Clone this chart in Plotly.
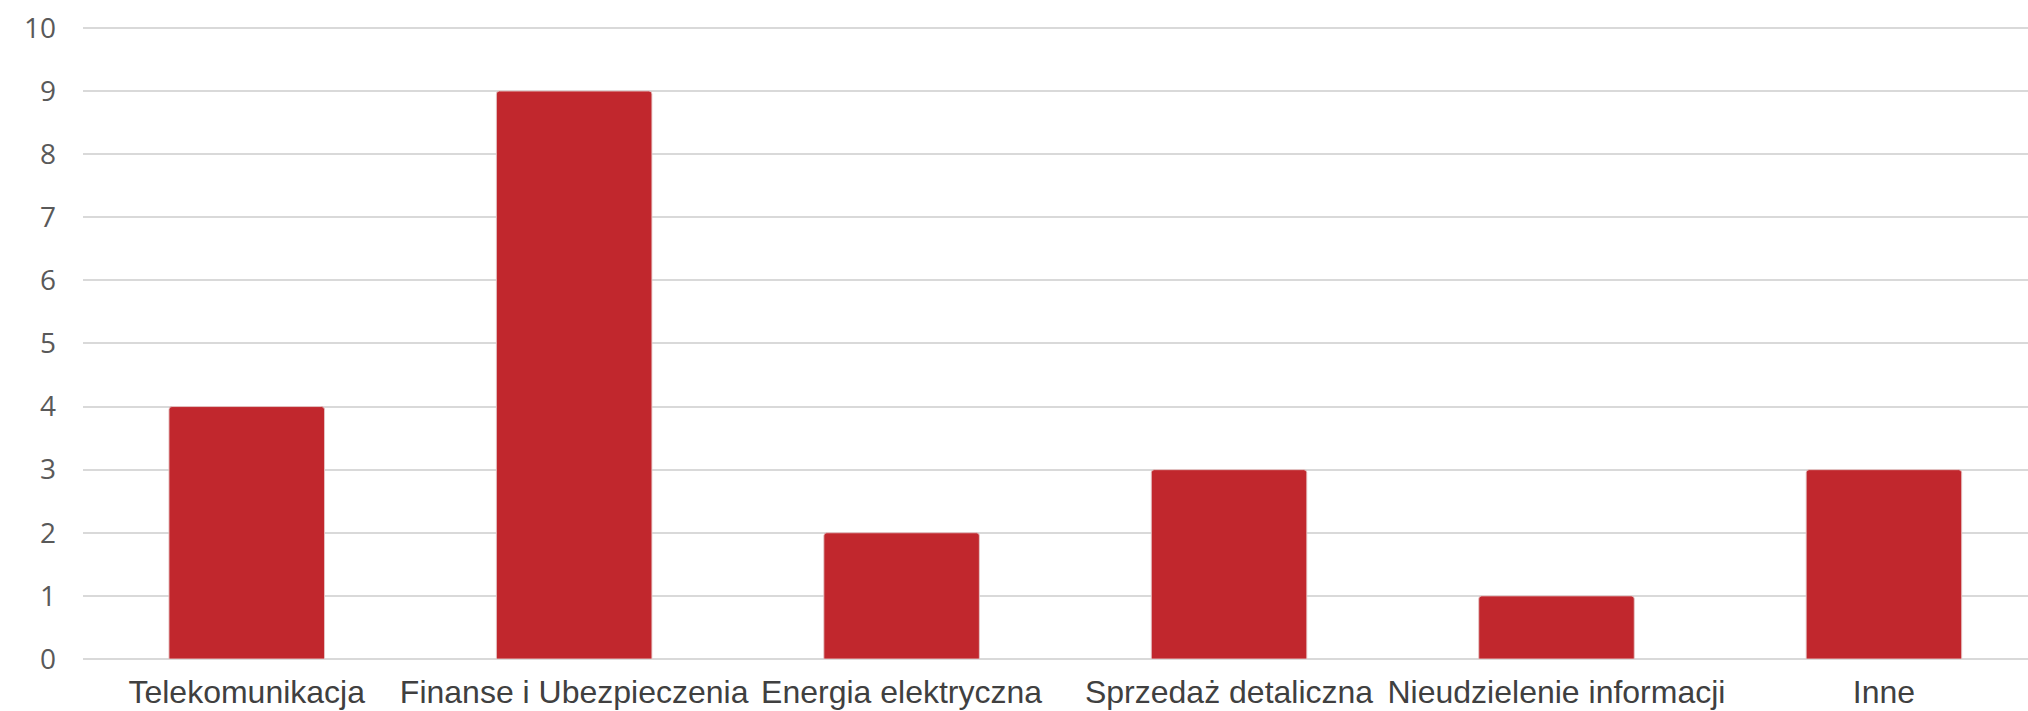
import plotly.graph_objects as go

categories = ["Telekomunikacja", "Finanse i Ubezpieczenia", "Energia elektryczna",
              "Sprzedaż detaliczna", "Nieudzielenie informacji", "Inne"]
values = [4, 9, 2, 3, 1, 3]
y_ticks = [0, 1, 2, 3, 4, 5, 6, 7, 8, 9, 10]

fig = go.Figure()
fig.add_trace(go.Bar(
    x=categories,
    y=values,
    width=0.475,
    marker=dict(color="#c1272d", line=dict(color="rgba(230,200,200,0.9)", width=1),
                cornerradius=3),
    hoverinfo="x+y",
))

fig.update_layout(
    width=2028, height=711,
    margin=dict(l=83, r=0, t=26, b=52),
    paper_bgcolor="white", plot_bgcolor="white",
    showlegend=False,
    xaxis=dict(
        type="category",
        range=[-0.5, 5.44],
        showgrid=False,
        zeroline=False,
        showline=False,
        ticks="",
        tickfont=dict(family="Liberation Sans, Arial, sans-serif", size=32, color="#404040"),
        ticklabelstandoff=11,
        automargin=False,
    ),
    yaxis=dict(
        range=[0, 10.03],
        tickvals=y_ticks,
        ticktext=[str(v) for v in y_ticks],
        showgrid=True,
        gridcolor="#d9d9d9",
        gridwidth=2,
        zeroline=True,
        zerolinecolor="#d9d9d9",
        zerolinewidth=2,
        ticks="",
        tickfont=dict(family="Open Sans, sans-serif", size=28, color="#595959"),
        ticklabelstandoff=26,
        automargin=False,
    ),
)

fig.write_html("out.html",
               config={"displayModeBar": False},
               post_script="document.body.style.margin='0';document.body.style.overflow='hidden';")
